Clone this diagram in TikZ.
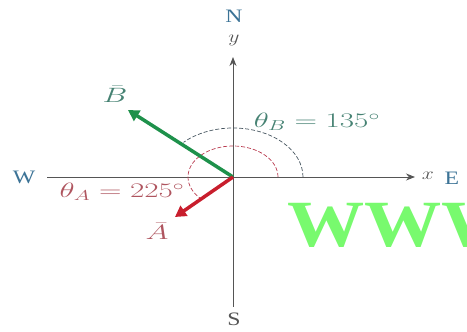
\documentclass[tikz,border=0pt]{standalone}
\usepackage{fontspec}
\setmainfont{Liberation Serif}
\newfontfamily\wmfont{Liberation Serif}
\usetikzlibrary{arrows.meta}
\definecolor{axisgray}{RGB}{85,85,85}
\definecolor{vecgreen}{RGB}{30,145,75}
\definecolor{vecred}{RGB}{200,30,45}
\definecolor{compass}{RGB}{60,115,150}
\definecolor{arcblue}{RGB}{70,85,95}
\definecolor{arcred}{RGB}{185,60,80}
\definecolor{lblgreen}{RGB}{70,130,115}
\definecolor{lblred}{RGB}{175,85,95}
\definecolor{wmgreen}{RGB}{120,250,110}
\tikzset{
  axisline/.style={draw=axisgray, line width=0.9pt, -{Stealth[length=9pt,width=7pt]}},
  vecline/.style={line width=3.5pt, -{Triangle[length=11pt,width=12pt]}},
  anglearc/.style={line width=0.7pt, dash pattern=on 4pt off 2pt},
  compasslbl/.style={font=\fontsize{19}{19}\selectfont, inner sep=0pt, xscale=1.25},
  anglelbl/.style={font=\fontsize{20}{20}\selectfont, inner sep=0pt, xscale=1.5}
}
\begin{document}
\begin{tikzpicture}[x=1pt,y=1pt]
\useasboundingbox (0,0) rectangle (467,332);
\clip (0,0) rectangle (467,332);
\coordinate (O) at (233,155);
\coordinate (xl) at (47,155);
\coordinate (xr) at (415,155);
\coordinate (yb) at (233,25);
\coordinate (yt) at (233,275);
\coordinate (Btip) at (128,222);
\coordinate (Atip) at (175,115);
% axes
\draw[axisline] (xl) -- (xr);
\draw[axisline] (yb) -- (yt);
% angle arcs
\draw[anglearc, draw=arcblue] (O) ++(70,0) arc[start angle=0, end angle=135, x radius=70, y radius=49];
\draw[anglearc, draw=arcred] (O) ++(45,0) arc[start angle=0, end angle=225, x radius=45, y radius=31];
% vectors
\draw[vecline, draw=vecgreen, fill=vecgreen] (O) -- (Btip);
\draw[vecline, draw=vecred, fill=vecred] (O) -- (Atip);
% compass labels
\node[compasslbl, text=compass] (N) at (234,316) {N};
\node[compasslbl, text=axisgray] (ylbl) at (234,292) {$y$};
\node[compasslbl, text=axisgray] (S) at (234,13) {S};
\node[compasslbl, text=compass] (W) at (24,155) {W};
\node[compasslbl, text=axisgray] (xlbl) at (428,156) {$x$};
\node[compasslbl, text=compass] (E) at (452,154) {E};
% vector labels
\node[anglelbl, text=lblgreen] (Blbl) at (115,238) {$\bar{B}$};
\node[anglelbl, text=lblred] (Albl) at (157,101) {$\bar{A}$};
% angle labels
\node[anglelbl, text=lblgreen] (thB) at (317,210) {$\theta_B = 135^\circ$};
\node[anglelbl, text=lblred] (thA) at (122,140) {$\theta_A = 225^\circ$};
% watermark
\node[anchor=base west, inner sep=0pt, text=wmgreen, xscale=1.17, font=\wmfont\bfseries\fontsize{66}{66}\selectfont] (wm) at (287,85) {WWW};
\end{tikzpicture}
\end{document}
